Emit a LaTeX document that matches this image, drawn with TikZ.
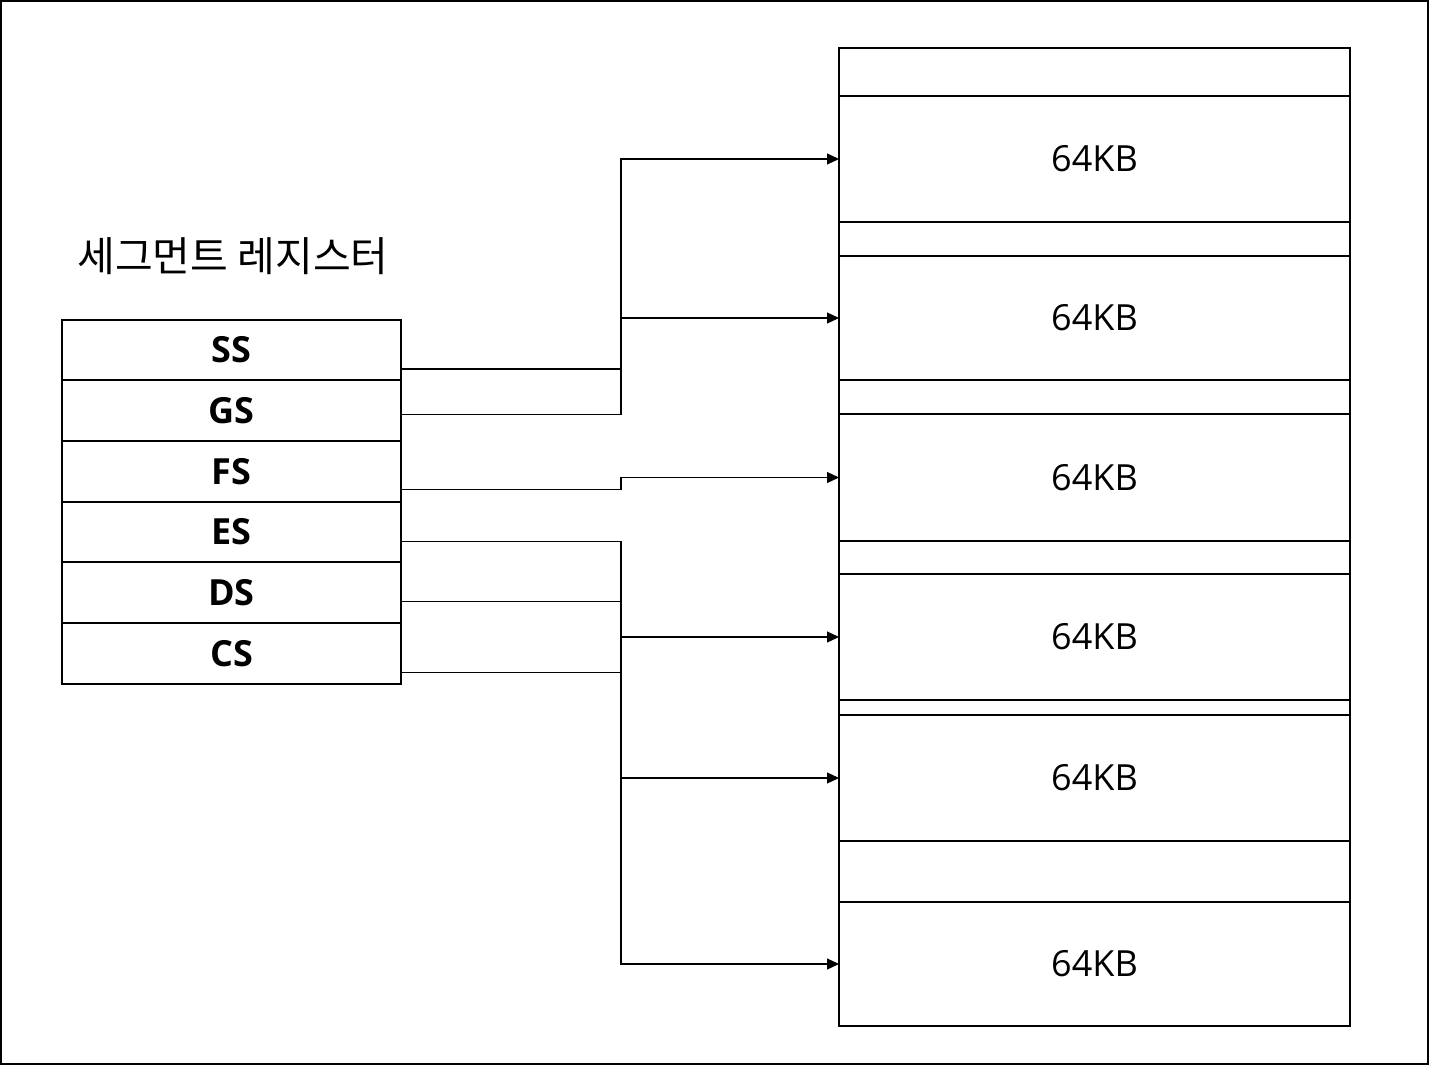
\documentclass[tikz,border=0pt]{standalone}
\usepackage{fontspec}
\setmainfont{Open Sans}
\newfontfamily\kofont{Noto Sans CJK KR}
\usepackage{tikz}
\usetikzlibrary{arrows.meta,positioning,calc}

\begin{document}
\begin{tikzpicture}[x=1pt,y=-1pt,
    reg/.style={draw, line width=2pt, minimum width=339pt, minimum height=60.7pt,
      inner sep=0pt, outer sep=0pt, font=\fontsize{36}{38}\selectfont\bfseries},
    blk/.style={draw, line width=2pt, minimum width=511pt, inner sep=0pt,
      outer sep=0pt, font=\fontsize{36}{38}\selectfont},
    conn/.style={line width=1.2pt, -{Triangle[length=12pt,width=11pt]}}]
      \useasboundingbox (0,0) rectangle (1429,1065);
      \draw[line width=2pt] (1,1) rectangle (1428,1064);

      % segment registers
      \node[font=\kofont\fontsize{41}{43}\selectfont] (title) at (233,256) {세그먼트 레지스터};
      \node[reg] (ss) at (231.5,350) {SS};
      \node[reg, below=0pt of ss] (gs) {GS};
      \node[reg, below=0pt of gs] (fs) {FS};
      \node[reg, below=0pt of fs] (es) {ES};
      \node[reg, below=0pt of es] (ds) {DS};
      \node[reg, below=0pt of ds] (cs) {CS};

      % memory
      \node[blk, minimum height=48pt] (g0) at (1094.5,72) {};
      \node[blk, minimum height=126pt, below=0pt of g0] (m1) {64KB};
      \node[blk, minimum height=34pt, below=0pt of m1] (g1) {};
      \node[blk, minimum height=124pt, below=0pt of g1] (m2) {64KB};
      \node[blk, minimum height=34pt, below=0pt of m2] (g2) {};
      \node[blk, minimum height=127pt, below=0pt of g2] (m3) {64KB};
      \node[blk, minimum height=33pt, below=0pt of m3] (g3) {};
      \node[blk, minimum height=126pt, below=0pt of g3] (m4) {64KB};
      \node[blk, minimum height=15pt, below=0pt of m4] (g4) {};
      \node[blk, minimum height=126pt, below=0pt of g4] (m5) {64KB};
      \node[blk, minimum height=61pt, below=0pt of m5] (g5) {};
      \node[blk, minimum height=124pt, below=0pt of g5] (m6) {64KB};

      % connectors
      \coordinate (bus) at (621,0);
      \draw[conn] ([yshift=-19pt]ss.east) -| (bus |- m1.west) -- (m1.west);
      \draw[conn] ([yshift=-4pt]gs.east) -| (bus |- m2.west) -- (m2.west);
      \draw[conn] ([yshift=-18pt]fs.east) -| (bus |- m3.west) -- (m3.west);
      \draw[conn] ([yshift=-9pt]es.east) -| (bus |- m4.west) -- (m4.west);
      \draw[conn] ([yshift=-9pt]ds.east) -| (bus |- m5.west) -- (m5.west);
      \draw[conn] ([yshift=-19pt]cs.east) -| (bus |- m6.west) -- (m6.west);
    \end{tikzpicture}
\end{document}
